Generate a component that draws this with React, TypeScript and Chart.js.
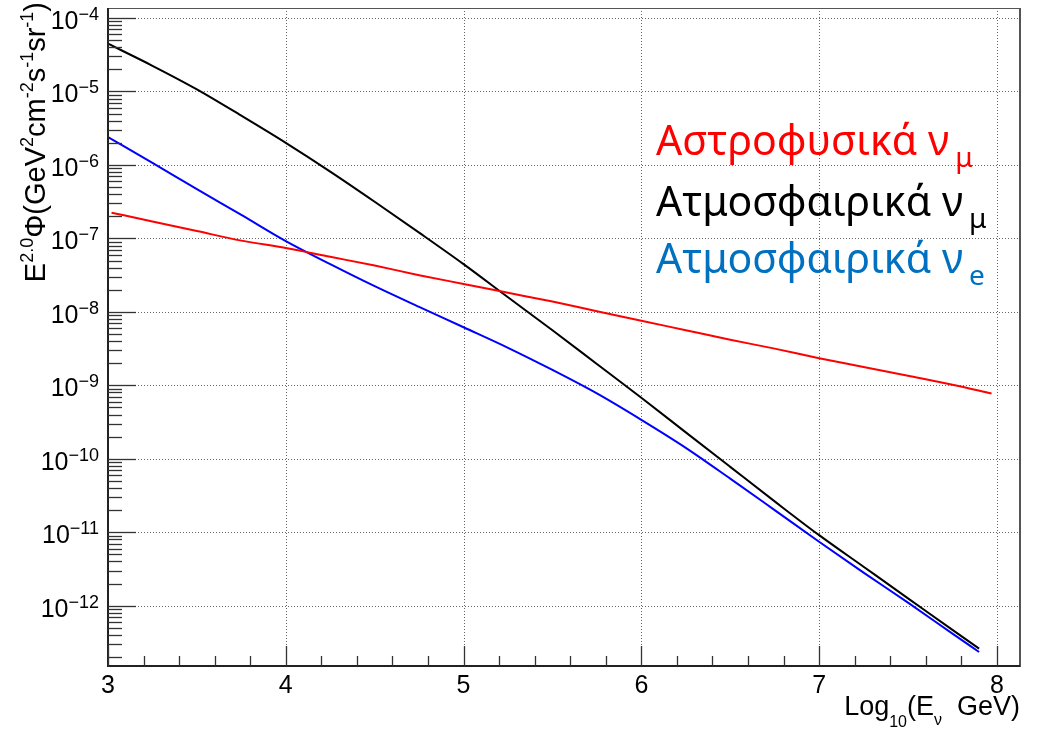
import React, { useEffect, useRef } from 'react';
import { Chart, registerables } from 'chart.js';

Chart.register(...registerables);

// log10(E/GeV) sampling positions
const xAtm = [3, 3.25, 3.5, 3.75, 4, 4.25, 4.5, 4.75, 5, 5.25, 5.5, 5.75, 6, 6.25, 6.5, 6.75, 7, 7.25, 7.5, 7.75, 7.9];
const xAstro = [3.02, 3.25, 3.5, 3.75, 4, 4.25, 4.5, 4.75, 5, 5.25, 5.5, 5.75, 6, 6.25, 6.5, 6.75, 7, 7.25, 7.5, 7.75, 7.97];

// E^2 Phi values (GeV cm^-2 s^-1 sr^-1)
const atmMu = [4.47e-5, 2.24e-5, 1.07e-5, 4.68e-6, 2.0e-6, 8.13e-7, 3.16e-7, 1.2e-7, 4.47e-8, 1.58e-8, 5.62e-9, 1.95e-9, 6.76e-10, 2.29e-10, 7.76e-11, 2.63e-11, 9.12e-12, 3.39e-12, 1.26e-12, 4.68e-13, 2.6e-13];
const atmE = [2.4e-6, 1.07e-6, 4.68e-7, 2.09e-7, 9.2e-8, 4.47e-8, 2.24e-8, 1.17e-8, 6.17e-9, 3.24e-9, 1.62e-9, 7.76e-10, 3.39e-10, 1.41e-10, 5.37e-11, 2.0e-11, 7.41e-12, 2.82e-12, 1.1e-12, 4.17e-13, 2.34e-13];
const astroMu = [2.24e-7, 1.7e-7, 1.26e-7, 9.33e-8, 7.41e-8, 5.62e-8, 4.27e-8, 3.16e-8, 2.4e-8, 1.82e-8, 1.38e-8, 1.02e-8, 7.59e-9, 5.62e-9, 4.17e-9, 3.16e-9, 2.34e-9, 1.78e-9, 1.35e-9, 1.02e-9, 7.76e-10];

const xTickLabels = [3, 4, 5, 6, 7, 8];
const yExponents = [-4, -5, -6, -7, -8, -9, -10, -11, -12];

const legendLines = [
  { text: 'Αστροφυσικά ν', sub: 'μ', color: '#ff0000' },
  { text: 'Ατμοσφαιρικά ν', sub: 'μ', color: '#000000' },
  { text: 'Ατμοσφαιρικά ν', sub: 'e', color: '#0070c0' },
];

const FONT = '"Liberation Sans", Arial, sans-serif';
const LFONT = '"Noto Sans", "Open Sans", sans-serif';

type Piece = { t: string; size: number; dy: number };

function drawPieces(ctx: CanvasRenderingContext2D, pieces: Piece[], x0: number, y0: number) {
  let x = x0;
  for (const p of pieces) {
    ctx.font = `${p.size}px ${FONT}`;
    ctx.fillText(p.t, x, y0 + p.dy);
    x += ctx.measureText(p.t).width;
  }
}
function piecesWidth(ctx: CanvasRenderingContext2D, pieces: Piece[]) {
  let w = 0;
  for (const p of pieces) {
    ctx.font = `${p.size}px ${FONT}`;
    w += ctx.measureText(p.t).width;
  }
  return w;
}

const rootPlugin = {
  id: 'rootStyle',
  beforeDatasetsDraw(chart: any) {
    const { ctx, chartArea: a } = chart;
    const xs = chart.scales.x;
    const ys = chart.scales.y;
    ctx.save();
    ctx.strokeStyle = 'rgba(0,0,0,0.6)';
    ctx.lineWidth = 1;
    ctx.setLineDash([1, 2]);
    for (const v of xTickLabels) {
      if (v === xTickLabels[0]) continue;
      const px = Math.round(xs.getPixelForValue(v)) + 0.5;
      ctx.beginPath();
      ctx.moveTo(px, a.top);
      ctx.lineTo(px, a.bottom);
      ctx.stroke();
    }
    for (const e of yExponents) {
      const py = Math.round(ys.getPixelForValue(Math.pow(10, e))) + 0.5;
      ctx.beginPath();
      ctx.moveTo(a.left, py);
      ctx.lineTo(a.right, py);
      ctx.stroke();
    }
    ctx.restore();
  },
  afterDatasetsDraw(chart: any) {
    const { ctx, chartArea: a } = chart;
    const xs = chart.scales.x;
    const ys = chart.scales.y;
    ctx.save();
    ctx.setLineDash([]);
    // frame
    ctx.strokeStyle = '#555';
    ctx.lineWidth = 1;
    ctx.strokeRect(a.left + 0.5, a.top + 0.5, a.right - a.left, a.bottom - a.top);
    ctx.lineWidth = 2;
    ctx.beginPath();
    ctx.moveTo(a.right, a.top);
    ctx.lineTo(a.right, a.bottom);
    ctx.stroke();
    ctx.strokeStyle = '#222';
    ctx.beginPath();
    ctx.moveTo(a.left, a.top);
    ctx.lineTo(a.left, a.bottom);
    ctx.lineTo(a.right, a.bottom);
    ctx.stroke();

    // x ticks
    ctx.lineWidth = 1.3;
    ctx.strokeStyle = '#333';
    const xmin = xs.min, xmax = xs.max;
    for (let i = Math.ceil(xmin * 5); i <= Math.floor(xmax * 5); i++) {
      const v = i / 5;
      const px = Math.round(xs.getPixelForValue(v)) + 0.5;
      const major = i % 5 === 0;
      ctx.beginPath();
      ctx.moveTo(px, a.bottom);
      ctx.lineTo(px, a.bottom - (major ? 20 : 10));
      ctx.stroke();
    }
    // y ticks (log)
    for (let e = -13; e <= -4; e++) {
      for (let k = 1; k <= 9; k++) {
        const v = k * Math.pow(10, e);
        if (v < ys.min || v > ys.max) continue;
        const py = Math.round(ys.getPixelForValue(v)) + 0.5;
        ctx.beginPath();
        ctx.moveTo(a.left, py);
        ctx.lineTo(a.left + (k === 1 ? 28 : 14), py);
        ctx.stroke();
      }
    }

    // x labels
    ctx.fillStyle = '#000';
    ctx.textAlign = 'center';
    ctx.textBaseline = 'alphabetic';
    ctx.font = `25px ${FONT}`;
    for (const v of xTickLabels) {
      ctx.fillText(String(v), xs.getPixelForValue(v), a.bottom + 27);
    }

    // y labels
    ctx.textAlign = 'left';
    for (const e of yExponents) {
      const py = ys.getPixelForValue(Math.pow(10, e));
      const sup = '\u2212' + String(-e);
      ctx.font = `18px ${FONT}`;
      const sw = ctx.measureText(sup).width;
      ctx.font = `25px ${FONT}`;
      const mw = ctx.measureText('10').width;
      const right = 99;
      ctx.fillText('10', right - sw - mw, py + 11);
      ctx.font = `18px ${FONT}`;
      ctx.fillText(sup, right - sw, py + 2);
    }

    // x title
    const xt: Piece[] = [
      { t: 'Log', size: 27, dy: 0 },
      { t: '10', size: 16, dy: 12 },
      { t: '(E', size: 27, dy: 0 },
      { t: 'ν', size: 16, dy: 10 },
      { t: '  GeV)', size: 27, dy: 0 },
    ];
    const xtw = piecesWidth(ctx, xt);
    drawPieces(ctx, xt, a.right - xtw, 715);

    // y title
    const yt: Piece[] = [
      { t: 'E', size: 29, dy: 0 },
      { t: '2.0', size: 18, dy: -12 },
      { t: 'Φ(GeV', size: 29, dy: 0 },
      { t: '2', size: 18, dy: -12 },
      { t: 'cm', size: 29, dy: 0 },
      { t: '-2', size: 18, dy: -12 },
      { t: 's', size: 29, dy: 0 },
      { t: '-1', size: 18, dy: -12 },
      { t: 'sr', size: 29, dy: 0 },
      { t: '-1', size: 18, dy: -12 },
      { t: ')', size: 29, dy: 0 },
    ];
    const ytw = piecesWidth(ctx, yt);
    ctx.save();
    ctx.translate(45, 2 + ytw);
    ctx.rotate(-Math.PI / 2);
    drawPieces(ctx, yt, 0, 0);
    ctx.restore();

    // legend text
    const baselines = [155, 216, 273];
    legendLines.forEach((l, i) => {
      ctx.fillStyle = l.color;
      ctx.font = `41px ${LFONT}`;
      ctx.fillText(l.text, 656, baselines[i]);
      const w = ctx.measureText(l.text).width;
      ctx.font = `28px ${LFONT}`;
      ctx.fillText(l.sub, 656 + w + 6, baselines[i] + 12);
    });
    ctx.restore();
  },
};

export default function App() {
  const ref = useRef<HTMLCanvasElement | null>(null);
  useEffect(() => {
    if (!ref.current) return;
    const mk = (xs: number[], ys: number[]) => xs.map((x, i) => ({ x, y: ys[i] }));
    const chart = new Chart(ref.current, {
      type: 'line',
      data: {
        datasets: [
          { label: 'Αστροφυσικά νμ', data: mk(xAstro, astroMu), borderColor: '#ff0000', borderWidth: 2, pointRadius: 0, cubicInterpolationMode: 'monotone', fill: false },
          { label: 'Ατμοσφαιρικά νe', data: mk(xAtm, atmE), borderColor: '#0000ff', borderWidth: 2, pointRadius: 0, cubicInterpolationMode: 'monotone', fill: false },
          { label: 'Ατμοσφαιρικά νμ', data: mk(xAtm, atmMu), borderColor: '#000000', borderWidth: 2, pointRadius: 0, cubicInterpolationMode: 'monotone', fill: false },
        ],
      },
      options: {
        animation: false,
        responsive: false,
        devicePixelRatio: 1,
        layout: { padding: { left: 108, right: 25, top: 8, bottom: 63 } },
        plugins: { legend: { display: false }, tooltip: { enabled: false } },
        scales: {
          x: { type: 'linear', min: 3, max: 8.13, ticks: { display: false }, grid: { display: false, drawTicks: false }, border: { display: false } },
          y: { type: 'logarithmic', min: 1.51e-13, max: 1.37e-4, ticks: { display: false }, grid: { display: false, drawTicks: false }, border: { display: false } },
        },
      } as any,
      plugins: [rootPlugin as any],
    });
    return () => chart.destroy();
  }, []);
  return (
    <div style={{ position: 'fixed', left: 0, top: 0, width: 1045, height: 729, background: '#fff' }}>
      <canvas ref={ref} width={1045} height={729} style={{ display: 'block', width: 1045, height: 729 }} />
    </div>
  );
}
